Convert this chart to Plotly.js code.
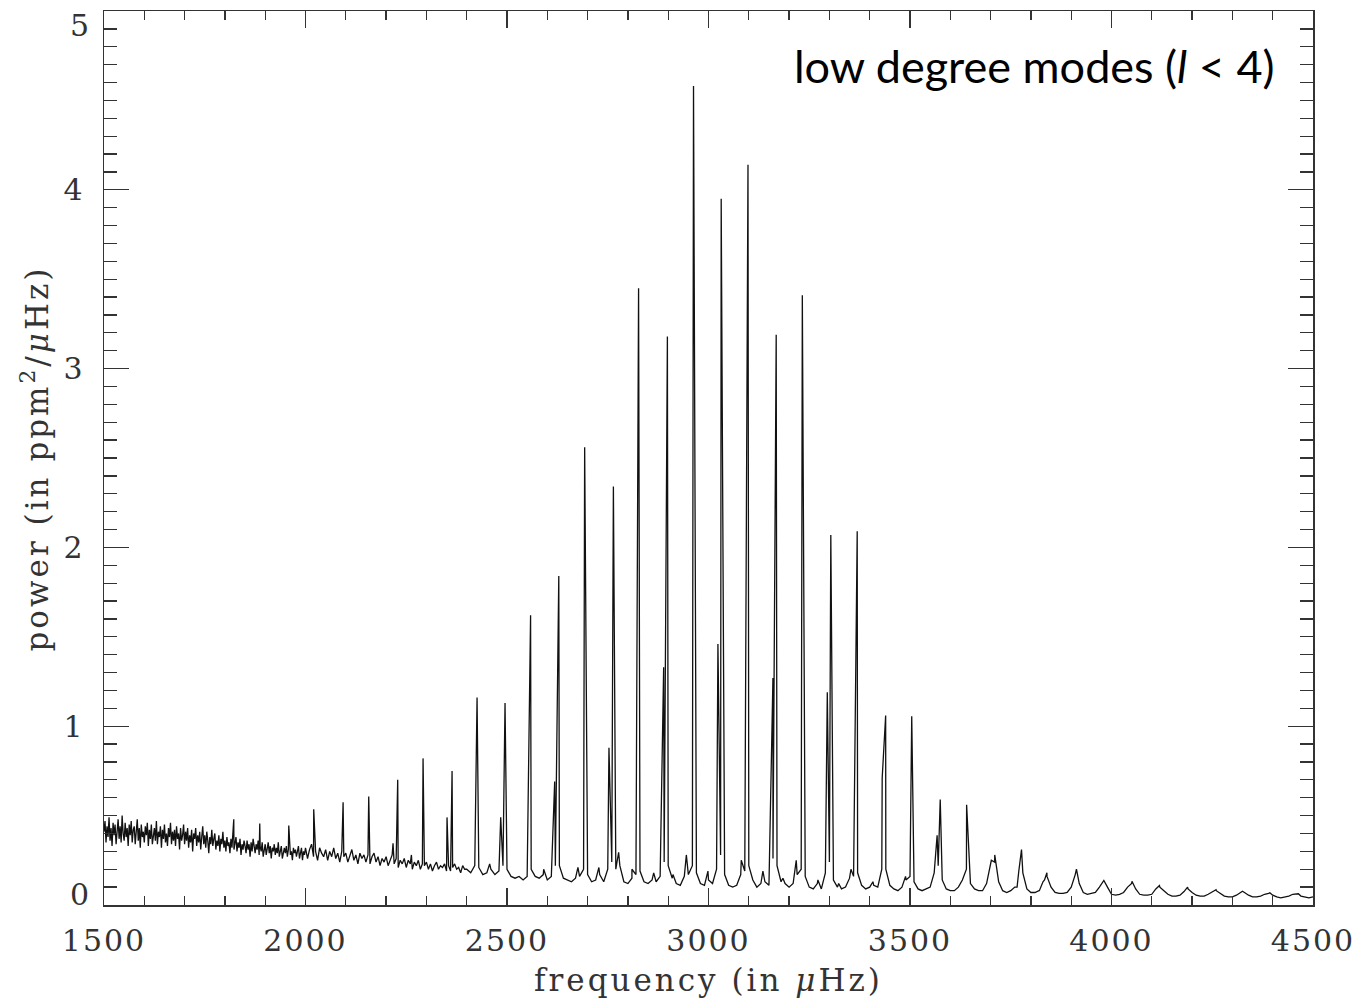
<!DOCTYPE html>
<html><head><meta charset="utf-8">
<script src="https://cdn.plot.ly/plotly-3.0.1.min.js"></script>
<style>
html,body{margin:0;padding:0;background:#fff;}
.xtick text, .ytick text { letter-spacing: 2px; }
.annotation[data-index="0"] .annotation-text,
.annotation[data-index="1"] .annotation-text { letter-spacing: 2px; }
.annotation[data-index="2"] .annotation-text,
.annotation[data-index="3"] .annotation-text { letter-spacing: 3px; }
</style>
</head><body><div id="chart" style="width:1359px;height:1006px;"></div>
<script>
// low-frequency noisy background, every 2.5 µHz from 1500 µHz
const noiseAStart = 1500, noiseAStep = 2.5;
const noiseAPower = [
0.41,0.47,0.35,0.44,0.38,0.49,0.36,0.43,0.33,0.46,
0.39,0.45,0.34,0.42,0.48,0.37,0.44,0.35,0.50,0.40,
0.36,0.46,0.38,0.43,0.33,0.45,0.39,0.47,0.35,0.42,
0.44,0.34,0.41,0.48,0.36,0.43,0.32,0.45,0.38,0.41,
0.35,0.44,0.39,0.46,0.33,0.42,0.37,0.45,0.34,0.40,
0.43,0.36,0.47,0.34,0.41,0.38,0.44,0.32,0.42,0.37,
0.45,0.35,0.40,0.33,0.43,0.38,0.46,0.34,0.41,0.36,
0.42,0.33,0.44,0.37,0.40,0.31,0.43,0.36,0.39,0.45,
0.34,0.41,0.36,0.43,0.32,0.39,0.35,0.42,0.30,0.40,
0.37,0.43,0.33,0.39,0.35,0.41,0.31,0.38,0.44,0.34,
0.39,0.32,0.41,0.36,0.29,0.38,0.34,0.42,0.33,0.37,
0.40,0.31,0.36,0.33,0.39,0.30,0.37,0.34,0.41,0.32,
0.36,0.30,0.38,0.33,0.35,0.29,0.37,0.32,0.39,0.31,
0.34,0.38,0.30,0.35,0.32,0.37,0.28,0.34,0.31,0.36,
0.33,0.29,0.36,0.31,0.34,0.27,0.35,0.30,0.37,0.32,
0.29,0.34,0.31,0.36,0.28,0.33,0.30,0.35,0.27,0.32,
0.34,0.28,0.31,0.35,0.29,0.33,0.26,0.32,0.30,0.34,
0.28,0.32,0.29,0.35,0.27,0.31,0.33,0.26,0.30,0.32,
0.29,0.33,0.27,0.31,0.34,0.28,0.30,0.25,0.32,0.29,
0.31,0.27,0.30,0.33,0.26,0.29,0.32,0.25,0.30,0.28
];
// noisy background, every 5 µHz from 2000 µHz
const noiseBStart = 2000, noiseBStep = 5;
const noiseBPower = [
0.32,0.26,0.31,0.34,0.27,0.30,0.25,0.32,0.29,0.27,
0.31,0.25,0.30,0.27,0.32,0.26,0.29,0.24,0.30,0.27,
0.29,0.24,0.28,0.31,0.25,0.28,0.23,0.29,0.26,0.28,
0.24,0.28,0.23,0.27,0.29,0.24,0.27,0.22,0.26,0.24,
0.27,0.22,0.25,0.28,0.23,0.26,0.21,0.25,0.23,0.26,
0.21,0.25,0.23,0.20,0.24,0.22,0.25,0.20,0.23,0.22,
0.24,0.20,0.23,0.19,0.22,0.24,0.20,0.22,0.21,0.23,
0.19,0.22,0.19,0.21,0.23,0.20,0.21,0.18,0.22,0.20
];
// background between modes, every 10 µHz from 2400 µHz
const bgStart = 2400, bgStep = 10;
const bgPower = [
0.20,0.18,0.22,0.21,0.17,0.18,0.20,0.17,0.19,0.22,
0.20,0.16,0.15,0.16,0.14,0.16,0.20,0.16,0.15,0.17,
0.14,0.16,0.22,0.22,0.15,0.14,0.13,0.15,0.16,0.20,
0.17,0.13,0.14,0.17,0.13,0.20,0.24,0.20,0.22,0.13,
0.12,0.15,0.17,0.19,0.13,0.12,0.14,0.13,0.16,0.24,
0.22,0.15,0.12,0.11,0.16,0.17,0.22,0.18,0.12,0.11,
0.14,0.12,0.20,0.28,0.17,0.11,0.10,0.11,0.17,0.19,
0.22,0.14,0.10,0.12,0.13,0.11,0.26,0.22,0.13,0.12,
0.10,0.12,0.17,0.20,0.16,0.10,0.09,0.12,0.09,0.18,
0.24,0.14,0.10,0.09,0.10,0.15,0.16,0.18,0.11,0.09,
0.10,0.11,0.10,0.20,0.20,0.11,0.09,0.08,0.10,0.14,
0.16,0.13,0.09,0.08,0.09,0.10,0.18,0.22,0.14,0.09,
0.08,0.08,0.10,0.14,0.20,0.12,0.09,0.08,0.08,0.12,
0.22,0.24,0.13,0.08,0.07,0.08,0.10,0.19,0.18,0.09,
0.07,0.07,0.08,0.13,0.16,0.10,0.07,0.065,0.065,0.07,
0.10,0.17,0.12,0.07,0.06,0.065,0.07,0.10,0.13,0.10,
0.06,0.055,0.06,0.07,0.10,0.12,0.09,0.06,0.055,0.055,
0.06,0.09,0.10,0.08,0.06,0.05,0.05,0.055,0.075,0.09,
0.07,0.055,0.05,0.05,0.06,0.075,0.08,0.065,0.05,0.045,
0.045,0.055,0.07,0.07,0.055,0.045,0.045,0.05,0.06,0.065,
0.055,0.045,0.04,0.045,0.05,0.06,0.06,0.05,0.045,0.04,
0.045
];
// oscillation mode peaks (frequency in µHz, peak power)
const modeFreq = [
1822,1886.5,1958.5,2020.4,2093.3,2156.9,2217.2,2228.8,2262.8,2291.7,
2351.2,2363.7,2425.7,2457,2484.4,2495.1,2558.5,2591,2618.3,2628.5,
2676,2692.7,2728,2753,2764,2777,2810,2826.5,2864,2888.7,
2898,2911.8,2945,2962.8,2998.6,3023.4,3031.5,3081.3,3098,3135,
3159.9,3168,3184.7,3217.7,3232.8,3271.5,3294.8,3303.5,3323,3353.5,
3369,3408,3431,3439.6,3489,3504.3,3547,3567.3,3575,3625,
3640.5,3701.8,3710.3,3765.7,3776.7,3821,3833.8,3839.7,3913,3957,
3981,4050.8,4119,4188.8,4259.4,4325,4393,4463.7
];
const modePower = [
0.48,0.456,0.445,0.535,0.575,0.607,0.345,0.70,0.28,0.82,
0.49,0.75,1.16,0.23,0.49,1.13,1.62,0.20,0.69,1.84,
0.21,2.56,0.21,0.88,2.34,0.295,0.20,3.45,0.18,1.33,
3.18,0.17,0.28,4.58,0.19,1.46,3.95,0.25,4.14,0.19,
1.27,3.19,0.15,0.25,3.41,0.14,1.19,2.07,0.12,0.20,
2.09,0.13,0.71,1.06,0.16,1.055,0.10,0.39,0.59,0.12,
0.56,0.25,0.28,0.10,0.31,0.08,0.14,0.18,0.20,0.07,
0.137,0.133,0.109,0.10,0.085,0.077,0.068,0.063
];
const xTickVals = [1500,2000,2500,3000,3500,4000,4500];
const xTickText = ['1500','2000','2500','3000','3500','4000','4500'];
const yTickVals = [1,2,3,4];
const yTickText = ['1','2','3','4'];
const yEdgeLabels = ['0','5'];
const xTitle = 'frequency (in <i>μ</i>Hz)';
const yTitle = 'power (in ppm<sup>2</sup>/<i>μ</i>Hz)';
const noteText = 'low degree modes (<i>l</i> &lt; 4)';

const pts = [];
noiseAPower.forEach((p, i) => pts.push([noiseAStart + i * noiseAStep, p]));
noiseBPower.forEach((p, i) => pts.push([noiseBStart + i * noiseBStep, p]));
bgPower.forEach((p, i) => pts.push([bgStart + i * bgStep, p]));
modeFreq.forEach((f, i) => pts.push([f, modePower[i]]));
pts.sort((a, b) => a[0] - b[0]);

const trace = {
  x: pts.map(p => p[0]), y: pts.map(p => p[1]),
  type: 'scatter', mode: 'lines',
  line: {color: '#111', width: 1.3},
  hoverinfo: 'skip'
};

const serif = {family: 'DejaVu Serif, Liberation Serif, serif', size: 30, color: '#333'};
const serifTitle = {family: 'DejaVu Serif, Liberation Serif, serif', size: 31, color: '#333'};
const axisCommon = {
  ticks: 'inside', tickcolor: '#333', tickwidth: 1.3,
  mirror: 'allticks', showline: true, linecolor: '#333', linewidth: 1.5,
  showgrid: false, zeroline: false, tickfont: serif, fixedrange: true
};

const layout = {
  width: 1359, height: 1006,
  margin: {l: 104, r: 46, t: 11, b: 101, pad: 0},
  paper_bgcolor: '#fff', plot_bgcolor: '#fff',
  showlegend: false,
  xaxis: Object.assign({}, axisCommon, {
    range: [1500, 4500], tickmode: 'array', tickvals: xTickVals, ticktext: xTickText,
    ticklen: 17, ticklabelstandoff: 8,
    minor: {tickmode: 'linear', tick0: 1500, dtick: 100, ticks: 'inside', ticklen: 9,
            tickwidth: 1.3, tickcolor: '#333', showgrid: false}
  }),
  yaxis: Object.assign({}, axisCommon, {
    range: [0, 5], tickmode: 'array', tickvals: yTickVals, ticktext: yTickText,
    ticklen: 25, ticklabelstandoff: 12,
    minor: {tickmode: 'linear', tick0: 0, dtick: 0.1, ticks: 'inside', ticklen: 13,
            tickwidth: 1.3, tickcolor: '#333', showgrid: false}
  }),
  annotations: [
    {text: yEdgeLabels[0], xref: 'paper', x: 0, xanchor: 'right', xshift: -12,
     yref: 'y', y: 0.06, yanchor: 'middle', showarrow: false, font: serif},
    {text: yEdgeLabels[1], xref: 'paper', x: 0, xanchor: 'right', xshift: -12,
     yref: 'y', y: 4.92, yanchor: 'middle', showarrow: false, font: serif},
    {text: xTitle, xref: 'paper', x: 0.5, xanchor: 'center',
     yref: 'paper', y: -0.084, yanchor: 'middle', showarrow: false, font: serifTitle},
    {text: yTitle, textangle: -90, xref: 'paper', x: -0.057, xanchor: 'center',
     yref: 'paper', y: 0.499, yanchor: 'middle', showarrow: false, font: serifTitle},
    {text: noteText, xref: 'paper', x: 0.970, xanchor: 'right',
     yref: 'paper', y: 0.938, yanchor: 'middle', showarrow: false,
     font: {family: 'Lato, Open Sans, sans-serif', size: 45, color: '#000'}}
  ]
};

Plotly.newPlot('chart', [trace], layout, {displayModeBar: false, staticPlot: true});
</script>
</body></html>
